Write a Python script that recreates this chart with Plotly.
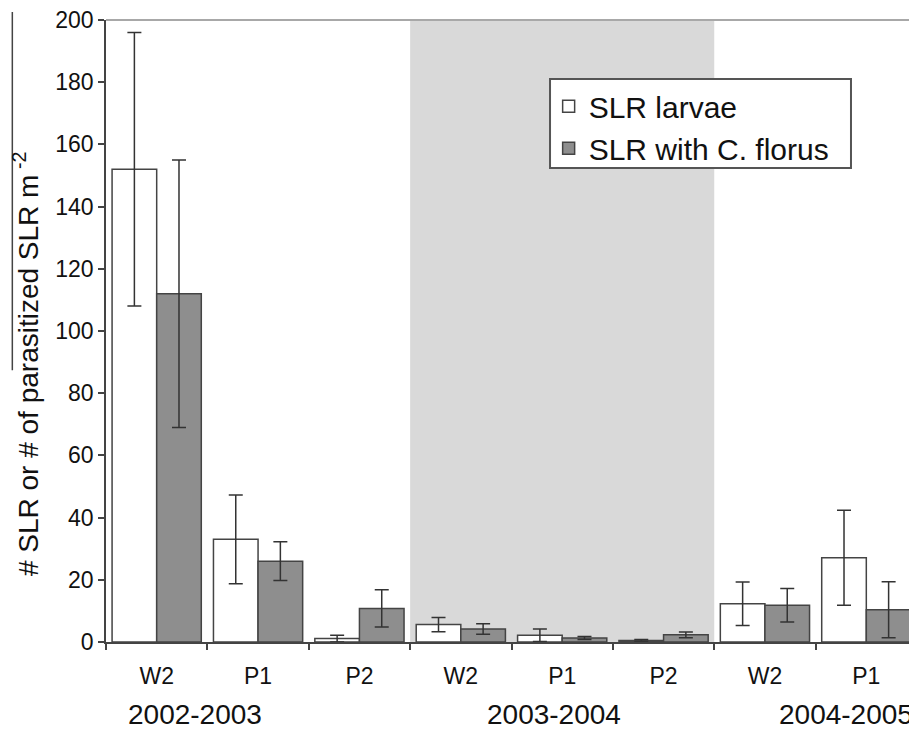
import plotly.graph_objects as go

# ---- data ----
stage_labels = ["W2", "P1", "P2", "W2", "P1", "P2", "W2", "P1"]
season_labels = ["2002-2003", "2003-2004", "2004-2005"]
season_label_pos = [0.38, 3.92, 6.80]          # x (category units) where each season label sits
slr_larvae = [152, 33, 1.1, 5.6, 2.2, 0.5, 12.3, 27.1]
slr_larvae_err = [44, 14.3, 1.1, 2.3, 2.0, 0.3, 7.0, 15.3]
slr_cflorus = [112, 26, 10.8, 4.2, 1.3, 2.3, 11.8, 10.4]
slr_cflorus_err = [43, 6.2, 6.0, 1.7, 0.5, 0.9, 5.4, 9.0]
shaded_span = [2.5, 5.5]                       # 2003-2004 background band
y_ticks = list(range(0, 201, 20))

FONT = "Liberation Sans, Arial, sans-serif"
x_idx = list(range(len(stage_labels)))
boundaries = [i - 0.5 for i in range(len(stage_labels) + 1)]

fig = go.Figure()
fig.add_trace(go.Bar(
    x=x_idx, y=slr_larvae, name="SLR larvae",
    marker=dict(color="white", line=dict(color="#444444", width=1.5)),
    error_y=dict(type="data", array=slr_larvae_err, color="#333333", thickness=1.5, width=7),
))
fig.add_trace(go.Bar(
    x=x_idx, y=slr_cflorus, name="SLR with C. florus",
    marker=dict(color="#8e8e8e", line=dict(color="#444444", width=1.5)),
    error_y=dict(type="data", array=slr_cflorus_err, color="#333333", thickness=1.5, width=7),
))

fig.add_shape(type="rect", xref="x", yref="paper", x0=shaded_span[0], x1=shaded_span[1],
              y0=0, y1=1, fillcolor="#d9d9d9", line=dict(width=0), layer="below")
# top and right frame (light)
fig.add_shape(type="line", xref="paper", yref="paper", x0=0, x1=1, y0=1, y1=1,
              line=dict(color="#a8a8a8", width=2))
fig.add_shape(type="line", xref="paper", yref="paper", x0=0.9985, x1=0.9985, y0=0, y1=1,
              line=dict(color="#c8c8c8", width=1.5))
# stray left border line from the cropped source
fig.add_shape(type="line", xref="paper", yref="paper", x0=-0.1155, x1=-0.1155, y0=1.013, y1=0.437,
              line=dict(color="#444444", width=1.5))
# legend frame
fig.add_shape(type="rect", xref="paper", yref="paper", x0=0.5475, x1=0.9186, y0=0.7621, y1=0.9051,
              fillcolor="white", line=dict(color="#555555", width=2), layer="above")

for lab, pos in zip(season_labels, season_label_pos):
    fig.add_annotation(x=pos, xref="x", y=-0.117, yref="paper", text=lab, showarrow=False,
                       xanchor="center", yanchor="middle", font=dict(family=FONT, size=28, color="#111111"))

fig.add_annotation(x=-0.0985, xref="paper", y=0.447, yref="paper",
                   text="# SLR or # of parasitized SLR m<sup> -2</sup>", textangle=-90,
                   showarrow=False, xanchor="center", yanchor="middle",
                   font=dict(family=FONT, size=28, color="#111111"))

fig.update_layout(
    width=909, height=723,
    margin=dict(l=98, r=0, t=12, b=89),
    paper_bgcolor="white", plot_bgcolor="white",
    barmode="group", bargap=0.12, bargroupgap=0,
    font=dict(family=FONT, color="#111111"),
    showlegend=True,
    legend=dict(x=0.5458, y=0.9032, xanchor="left", yanchor="top",
                bgcolor="rgba(0,0,0,0)", borderwidth=0,
                font=dict(family=FONT, size=30, color="#111111"),
                tracegroupgap=0, itemwidth=30),
    xaxis=dict(range=[-0.5, 7.5], tickmode="array", tickvals=boundaries, showticklabels=False,
               ticks="outside", ticklen=6, tickwidth=1.5, tickcolor="#444444",
               showline=True, linecolor="#444444", linewidth=1.5,
               showgrid=False, zeroline=False, fixedrange=True),
    xaxis2=dict(range=[-0.5, 7.5], overlaying="x", anchor="y", side="bottom",
                tickmode="array", tickvals=x_idx, ticktext=stage_labels, ticks="",
                ticklabelstandoff=18,
                tickfont=dict(family=FONT, size=23, color="#111111"),
                showline=False, showgrid=False, zeroline=False),
    yaxis=dict(range=[0, 200], tickmode="array", tickvals=y_ticks,
               ticks="outside", ticklen=6, tickwidth=1.5, tickcolor="#444444",
               showline=True, linecolor="#444444", linewidth=1.5,
               ticklabeloverflow="allow",
               tickfont=dict(family=FONT, size=23, color="#111111"),
               showgrid=False, zeroline=False),
)
# invisible helper trace so the label axis (xaxis2) renders
fig.add_trace(go.Scatter(x=[0], y=[0], xaxis="x2", mode="markers", marker=dict(opacity=0),
                         showlegend=False, hoverinfo="skip"))

fig.write_html("out.html")
